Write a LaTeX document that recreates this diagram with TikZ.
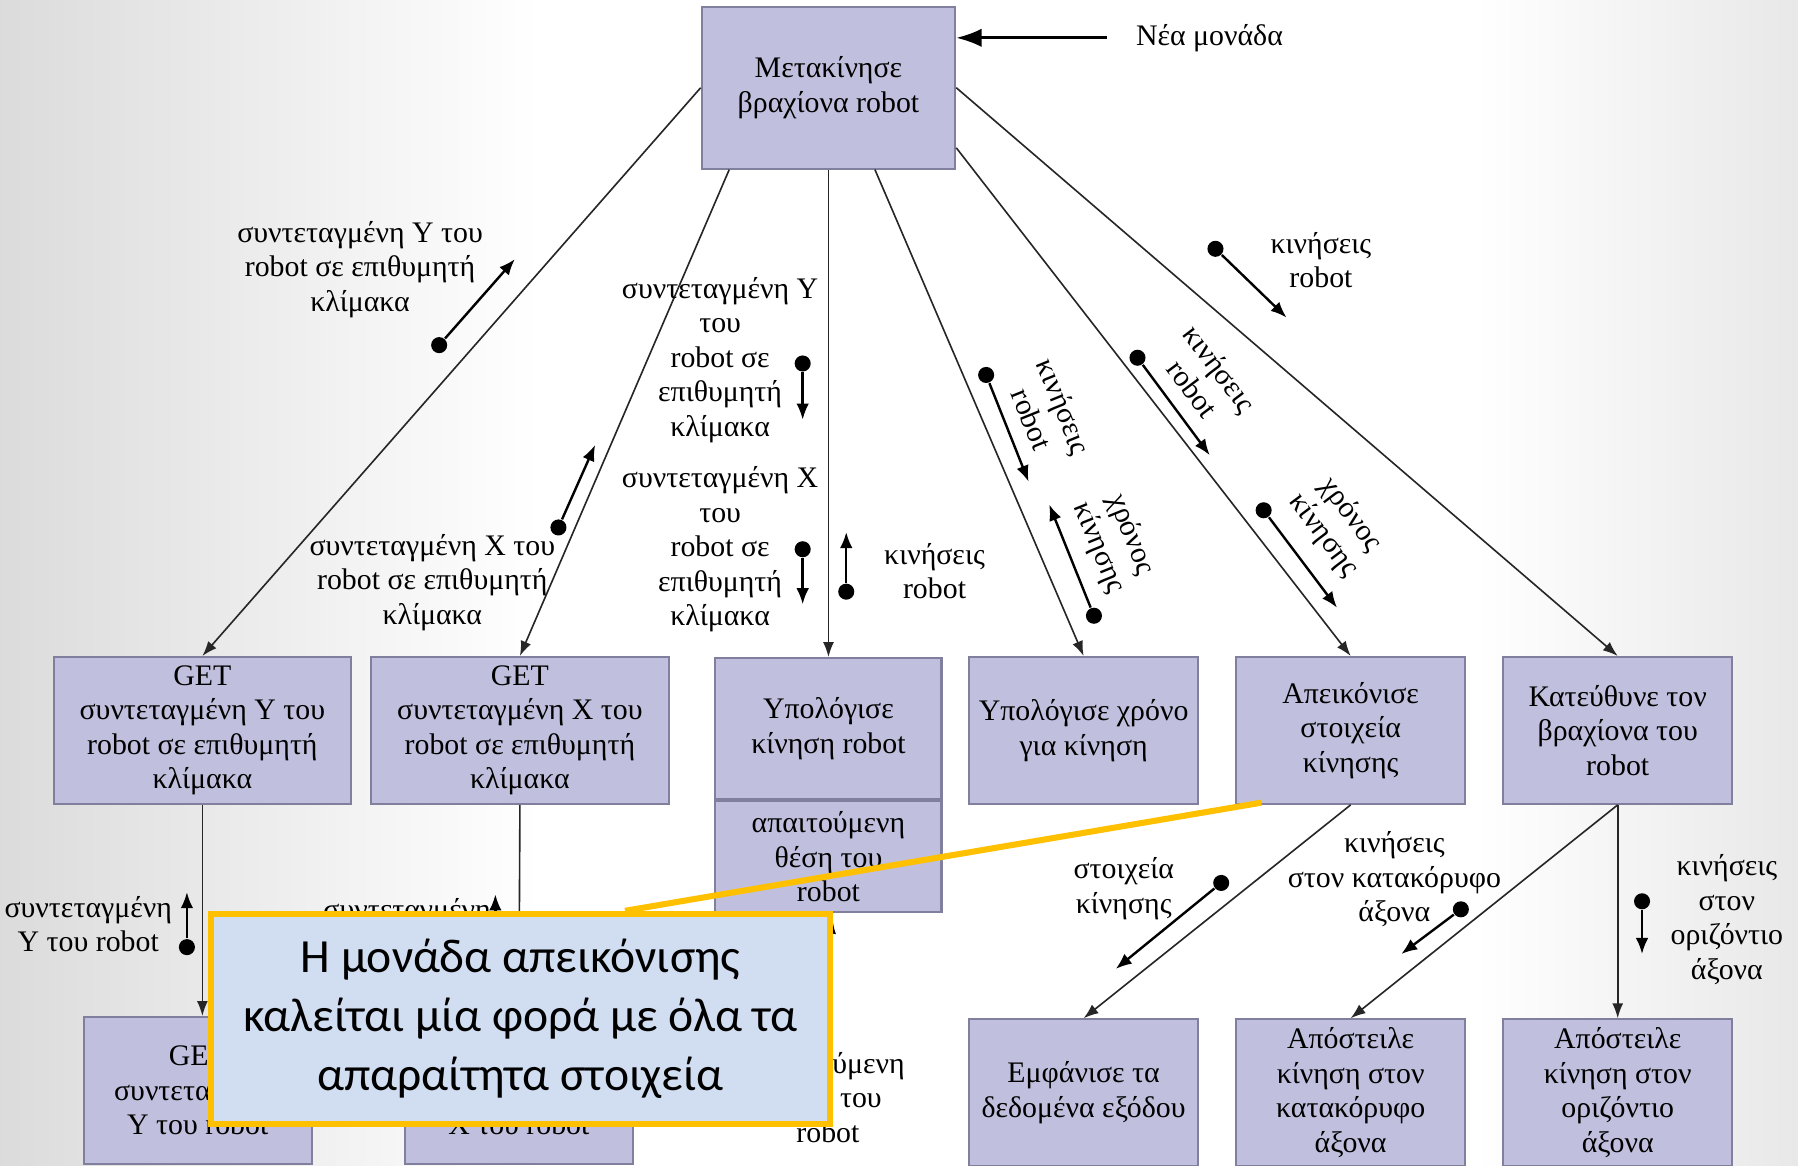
\documentclass[tikz,border=0pt]{standalone}
\usepackage{fontspec}
\setmainfont{Liberation Serif}
\newfontfamily\notefont{Carlito}
\usetikzlibrary{positioning,arrows.meta}

\definecolor{boxfill}{RGB}{192,192,222}
\definecolor{boxline}{RGB}{128,128,158}
\definecolor{notefill}{RGB}{209,221,240}
\definecolor{noteline}{RGB}{255,192,0}
\pgfdeclarehorizontalshading{slidebg}{100bp}{color(0bp)=(black!14); color(25bp)=(black!14);
  color(40bp)=(white); color(66bp)=(white); color(75bp)=(black!9); color(100bp)=(black!9)}

\begin{document}
\begin{tikzpicture}[
		x=0.01cm, y=-0.01cm,
		>={Latex[length=1.3mm,width=0.95mm]},
		every node/.style={
			font=\fontsize{7.4}{8.55}\selectfont,
			align=center
		},
		box/.style={draw=boxline, fill=boxfill, line width=0.5pt, inner sep=0pt,
			minimum width=2.0cm, minimum height=1.28cm},
		link/.style={->, line width=0.4pt, black!85},
		couple/.style={-{Latex[length=1.4mm,width=1.1mm]}, line width=0.6pt},
		dot/.style={circle, fill, inner sep=0pt, minimum size=0.14cm},
		lbl/.style={inner sep=0pt}
		]
		
		% slide background
		\shade[shading=slidebg] (0,0) rectangle (1568,1016);
		\useasboundingbox (0,0) rectangle (1568,1016);
		
		%--------------------------------------------------
		% Modules
		%--------------------------------------------------
		
		\node[box, minimum width=2.21cm, minimum height=1.41cm] (move) at (722.5,76.5) {Μετακίνησε\\βραχίονα robot};
		
		\node[box, minimum width=2.59cm] (getY) at (176.5,637) {GET\\συντεταγμένη Υ του\\robot σε επιθυμητή\\κλίμακα};
		\node[box, minimum width=2.59cm, right=0.16cm of getY] (getX) {GET\\συντεταγμένη Χ του\\robot σε επιθυμητή\\κλίμακα};
		\node[box, minimum width=1.97cm, minimum height=1.23cm, anchor=north] (calc) at (722.5,573) {Υπολόγισε\\κίνηση robot};
		\node[box, minimum width=1.97cm, minimum height=0.97cm, below=0pt of calc] (calcpos) {απαιτούμενη\\θέση του\\robot};
		\node[box] (time) at (945,637) {Υπολόγισε χρόνο\\για κίνηση};
		\node[box, right=0.31cm of time] (show) {Απεικόνισε\\στοιχεία\\κίνησης};
		\node[box, right=0.31cm of show] (steer) {Κατεύθυνε τον\\βραχίονα του\\robot};
		
		\node[box, minimum width=1.99cm] (getY2) at (172.5,951) {GET\\συντεταγμένη\\Υ του robot};
		\node[box, minimum width=1.99cm] (getX2) at (452.5,951) {GET\\συντεταγμένη\\Χ του robot};
		\node[box, below=1.86cm of time] (output) {Εμφάνισε τα\\δεδομένα εξόδου};
		\node[box, below=1.86cm of show] (vert) {Απόστειλε\\κίνηση στον\\κατακόρυφο\\άξονα};
		\node[box, below=1.86cm of steer] (horiz) {Απόστειλε\\κίνηση στον\\οριζόντιο\\άξονα};
		
		%--------------------------------------------------
		% Calls
		%--------------------------------------------------
		
		\node[lbl, anchor=west] (newunit) at (990,33) {Νέα μονάδα};
		\draw[-{Latex[length=2.2mm,width=1.6mm]}, line width=0.7pt]
		([xshift=-0.25cm]newunit.west) -- (newunit.west -| move.east);
		
		\draw[link] (move.west) -- (getY.north);
		\draw[link] ([xshift=-0.865cm]move.south) -- (getX.north);
		\draw[link] (move.south) -- (calc.north);
		\draw[link] ([xshift=0.405cm]move.south) -- (time.north);
		\draw[link] ([yshift=0.19cm]move.south east) -- (show.north);
		\draw[link] (move.east) -- (steer.north);
		
		\draw[link] (getY.south) -- (getY.south |- getY2.north);
		\draw[link] (getX.south) -- (getX2.north);
		\draw[link] (show.south) -- (output.north);
		\draw[link] (steer.south) -- (vert.north);
		\draw[link] (steer.south) -- (horiz.north);
		
		%--------------------------------------------------
		% Data couples
		%--------------------------------------------------
		
		\foreach \n/\dx/\dy/\tx/\ty in {A/383/301/449/226, B/700/317/700/366,
			C/487/460/519/388, D/700/479/700/527, E/738/516/738/464,
			F/860/327/897/420, G/954/537/915/440, H/992/312/1055/397,
			I/1102/445/1166/530, J/1060/217/1122/277, K/1065/770/973/845,
			L/1274/793/1222/832, M/1432/786/1432/832, N/163/826/163/778,
			O/432/830/432/780, P/718/848/726/800}
		{
			\node[dot] (d\n) at (\dx,\dy) {};
			\coordinate (t\n) at (\tx,\ty);
			\draw[couple] (d\n) -- (t\n);
		}
		
		\node[lbl] (lA) at (314,235) {συντεταγμένη Υ του\\robot σε επιθυμητή\\κλίμακα};
		\node[lbl] (lB) at (628,314) {συντεταγμένη Υ\\του\\robot σε\\επιθυμητή\\κλίμακα};
		\node[lbl] (lC) at (377,508) {συντεταγμένη Χ του\\robot σε επιθυμητή\\κλίμακα};
		\node[lbl] (lD) at (628,479) {συντεταγμένη Χ\\του\\robot σε\\επιθυμητή\\κλίμακα};
		\node[lbl] (lE) at (815,498) {κινήσεις\\robot};
		\node[lbl, rotate=-68] (lF) at (914,360) {κινήσεις\\robot};
		\node[lbl, rotate=-68] (lG) at (972,472) {χρόνος\\κίνησης};
		\node[lbl, rotate=-53] (lH) at (1052,330) {κινήσεις\\robot};
		\node[lbl, rotate=-53] (lI) at (1166,458) {χρόνος\\κίνησης};
		\node[lbl] (lJ) at (1152,227) {κινήσεις\\robot};
		\node[lbl] (lK) at (980,775) {στοιχεία\\κίνησης};
		\node[lbl] (lL) at (1216,767) {κινήσεις\\στον κατακόρυφο\\άξονα};
		\node[lbl] (lM) at (1506,802) {κινήσεις\\στον\\οριζόντιο\\άξονα};
		\node[lbl] (lN) at (77,806) {συντεταγμένη\\Υ του robot};
		\node[lbl] (lO) at (355,808) {συντεταγμένη\\Χ του robot};
		\node[lbl] (lP) at (722,957) {απαιτούμενη\\θέση του\\robot};
		
		%--------------------------------------------------
		% Note
		%--------------------------------------------------
		
		\coordinate (ptr) at (1100,700);
		\node[draw=noteline, fill=notefill, line width=1.5pt, inner sep=0pt,
			minimum width=5.4cm, minimum height=1.83cm,
			font=\notefont\fontsize{11.8}{14.6}\selectfont] (note) at (454,888.5)
		{Η μονάδα απεικόνισης\\καλείται μία φορά με όλα τα\\απαραίτητα στοιχεία};
		\draw[noteline, line width=1.5pt] (ptr) -- ([xshift=0.91cm]note.north);
		
	\end{tikzpicture}
\end{document}
